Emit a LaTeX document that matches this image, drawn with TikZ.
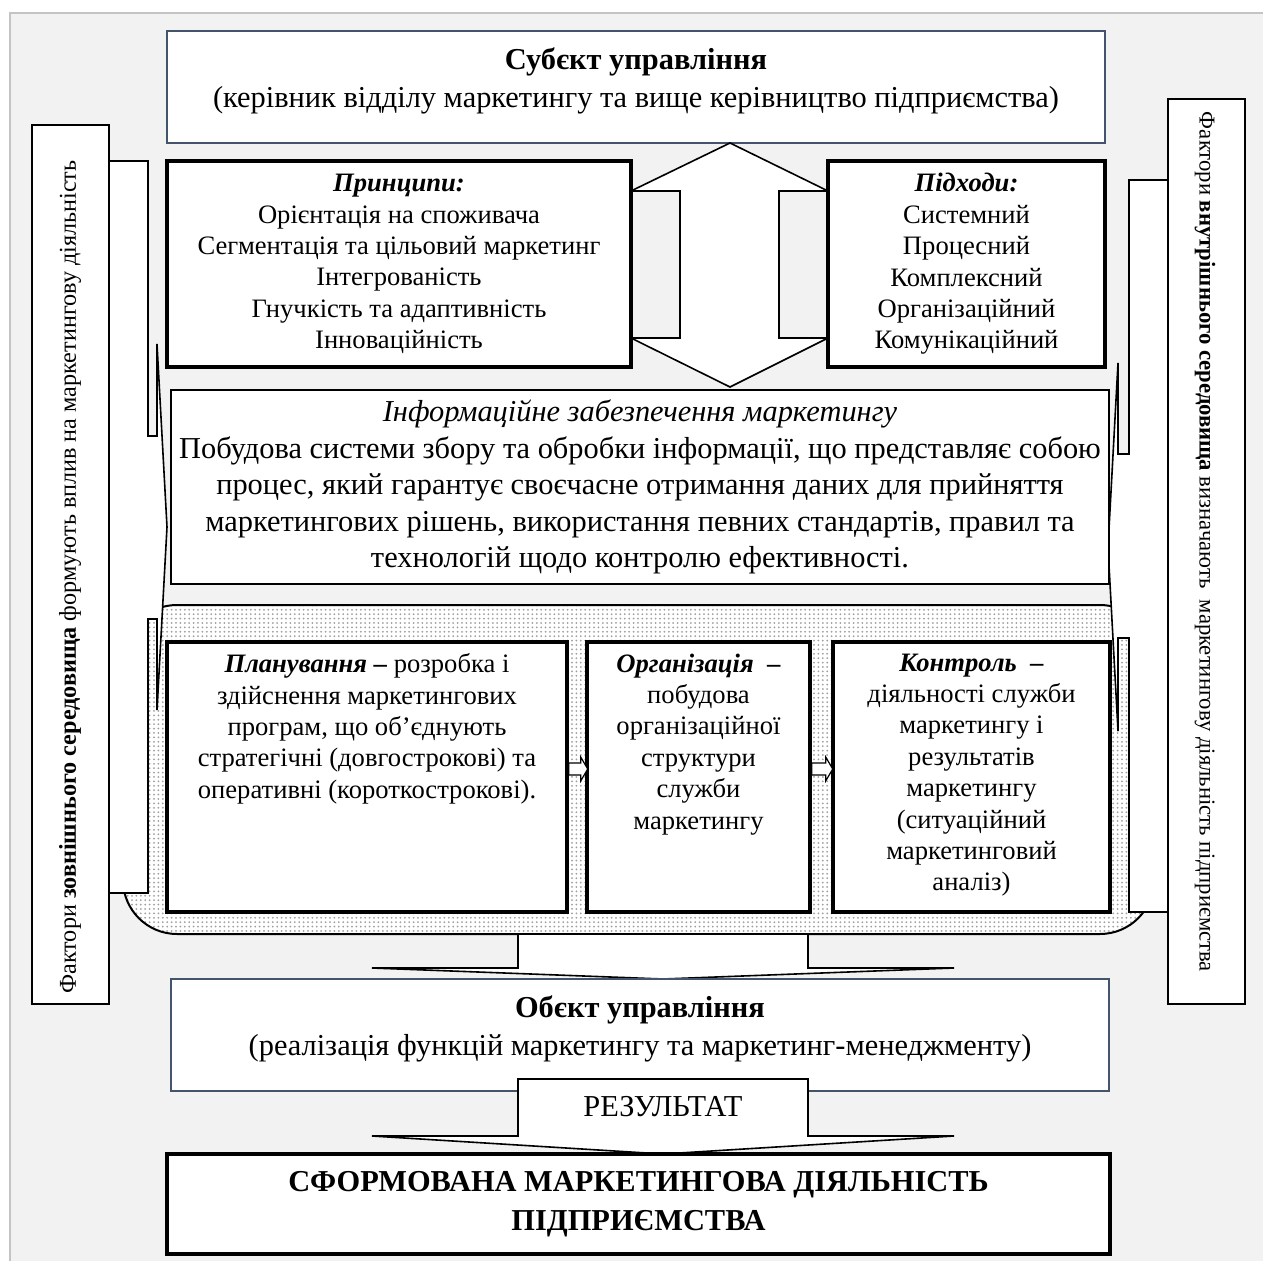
\documentclass[tikz,border=0pt]{standalone}
\usepackage{fontspec}
\setmainfont{Liberation Serif}
\usepackage{tikz}
\usetikzlibrary{positioning,patterns.meta}
\definecolor{mgback}{RGB}{242,242,242}
\definecolor{mgframe}{RGB}{196,196,196}
\definecolor{mgslate}{RGB}{68,84,106}
\newcommand{\mgsmall}{\fontsize{13.3}{15.7}\selectfont}
\newcommand{\mgbig}{\fontsize{15.2}{18.3}\selectfont}
\tikzset{
  mgthin/.style={draw=black, line width=0.8pt, fill=white},
  mgthick/.style={draw=black, line width=1.7pt, fill=white, inner sep=0pt},
  mgslatebox/.style={draw=mgslate, line width=0.9pt, fill=white, inner sep=0pt},
  mgfactor/.style={draw=black, line width=0.8pt, fill=white, inner sep=0pt},
  mgtext/.style={align=center, inner sep=0pt, font=\mgsmall},
  mgbigtext/.style={align=center, inner sep=0pt, font=\mgbig}
}

\begin{document}
\begin{tikzpicture}[x=0.5pt,y=-0.5pt]
  \useasboundingbox (0,0) rectangle (1263,1261);
  \draw[mgframe, fill=mgback, line width=0.8pt] (10,13) rectangle (1300,1300);
  % dotted band behind the functions
  \fill[white, rounded corners=27pt] (123,605) rectangle (1154,934);
  \fill[pattern={Dots[distance=2.2pt,radius=0.5pt]}, pattern color=gray!75, rounded corners=27pt] (123,605) rectangle (1154,934);
  \draw[line width=1pt, rounded corners=27pt] (123,605) rectangle (1154,934);
  % side callouts
  \draw[mgthin] (109,161) -- (148,161) -- (148,436) -- (157,436) -- (157,344) -- (167,527) -- (157,710) -- (157,619) -- (148,619) -- (148,893) -- (109,893) -- cycle;
  \draw[mgthin] (1168,180) -- (1129,180) -- (1129,454) -- (1118,454) -- (1118,363) -- (1108,547) -- (1118,731) -- (1118,638) -- (1129,638) -- (1129,912) -- (1168,912) -- cycle;
  \node[mgfactor, minimum width=38.5pt, minimum height=439.5pt] (extf) at (70.5,564.5) {};
  \node[mgfactor, minimum width=38.5pt, minimum height=452.5pt] (intf) at (1206.5,551.5) {};
  \node[rotate=90, inner sep=0pt, font=\fontsize{12.1}{14}\selectfont] (exttxt) at (70,577) {Фактори \textbf{зовнішнього середовища} формують вплив на маркетингову діяльність};
  \node[rotate=-90, inner sep=0pt, font=\fontsize{11.35}{13}\selectfont] (inttxt) at (1205,542) {Фактори \textbf{внутрішнього середовища} визначають~ маркетингову діяльність підприємства};
  % subject
  \node[mgslatebox, minimum width=469pt, minimum height=56pt] (subj) at (636,87) {};
  \node[mgbigtext] (subjtxt) at (636,81) {\textbf{Субєкт управління}\\[0.7pt](керівник відділу маркетингу та вище керівництво підприємства)};
  \draw[mgthin] (730,143) -- (828,191) -- (779,191) -- (779,338) -- (828,338) -- (730,387) -- (631,338) -- (680,338) -- (680,191) -- (631,191) -- cycle;
  \node[mgthick, mgtext, minimum width=232pt, minimum height=103pt] (princ) at (399,264) {\textbf{\textit{Принципи:}}\\Орієнтація на споживача\\Сегментація та цільовий маркетинг\\Інтегрованість\\Гнучкість та адаптивність\\Інноваційність};
  \node[mgthick, mgtext, minimum width=138.5pt, minimum height=103pt] (appr) at (966.5,264) {\textbf{\textit{Підходи:}}\\Системний\\Процесний\\Комплексний\\Організаційний\\Комунікаційний};
  \node[mgthin, mgbigtext, inner sep=0pt, minimum width=469pt, minimum height=97pt] (info) at (640,487) {\textit{Інформаційне забезпечення маркетингу}\\Побудова системи збору та обробки інформації, що представляє собою\\процес, який гарантує своєчасне отримання даних для прийняття\\маркетингових рішень, використання певних стандартів, правил та\\технологій щодо контролю ефективності.};
  % functions
  \node[mgthick, minimum width=200pt, minimum height=135pt] (plan) at (367,777) {};
  \node[mgthick, minimum width=111.5pt, minimum height=135pt] (org) at (698.5,777) {};
  \node[mgthick, minimum width=138.5pt, minimum height=135pt] (ctrl) at (971.5,777) {};
  \node[mgtext, below=6.5pt of plan.north] (plantxt) {\textbf{\textit{Планування} –} розробка і\\здійснення маркетингових\\програм, що об’єднують\\стратегічні (довгострокові) та\\оперативні (короткострокові).};
  \node[mgtext, below=6.5pt of org.north] (orgtxt) {\textbf{\textit{Організація}~ –}\\побудова\\організаційної\\структури\\служби\\маркетингу};
  \node[mgtext, below=6.5pt of ctrl.north] (ctrltxt) {\textbf{\textit{Контроль}~ –}\\діяльності служби\\маркетингу і\\результатів\\маркетингу\\(ситуаційний\\маркетинговий\\аналіз)};
  \draw[mgthin, line width=0.6pt] ([yshift=7pt]plan.east) -- ++(12,0) -- ++(0,-6) -- ++(7,12) -- ++(-7,12) -- ++(0,-6) -- ++(-12,0) -- cycle;
  \draw[mgthin, line width=0.6pt] ([yshift=7pt]org.east) -- ++(14,0) -- ++(0,-6) -- ++(7,12) -- ++(-7,12) -- ++(0,-6) -- ++(-14,0) -- cycle;
  % object and result
  \draw[mgthin] (518,934) -- (808,934) -- (808,968) -- (954,968) -- (663,979) -- (372,968) -- (518,968) -- cycle;
  \node[mgslatebox, minimum width=469pt, minimum height=56pt] (obj) at (640,1035) {};
  \node[mgbigtext] (objtxt) at (640,1029) {\textbf{Обєкт управління}\\[0.7pt](реалізація функцій маркетингу та маркетинг-менеджменту)};
  \draw[mgthin] (518,1079) -- (808,1079) -- (808,1136) -- (954,1136) -- (663,1154) -- (372,1136) -- (518,1136) -- cycle;
  \node[mgbigtext] (restxt) at (663,1107) {РЕЗУЛЬТАТ};
  \node[mgthick, mgbigtext, minimum width=471.5pt, minimum height=50pt] (final) at (638.5,1204) {\textbf{СФОРМОВАНА МАРКЕТИНГОВА ДІЯЛЬНІСТЬ}\\[1.2pt]\textbf{ПІДПРИЄМСТВА}};
\end{tikzpicture}
\end{document}
